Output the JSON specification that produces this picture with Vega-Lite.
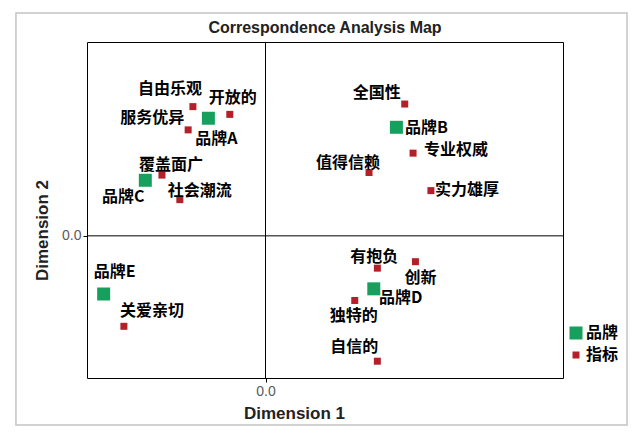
{
  "$schema": "https://vega.github.io/schema/vega-lite/v6.json",
  "autosize": {"type": "none"},
  "padding": {"left": 87, "top": 42, "right": 77, "bottom": 56},
  "width": 476,
  "height": 336,
  "background": "white",
  "title": {
    "text": "Correspondence Analysis Map",
    "font": "Liberation Sans",
    "fontSize": 16,
    "fontWeight": "bold",
    "color": "#222222",
    "anchor": "middle",
    "baseline": "alphabetic",
    "offset": 9,
    "dy": 46
  },
  "datasets": {
    "points": [
      {"name": "品牌A", "type": "品牌", "d1": -0.48, "d2": 0.91},
      {"name": "品牌B", "type": "品牌", "d1": 1.10, "d2": 0.84},
      {"name": "品牌C", "type": "品牌", "d1": -1.01, "d2": 0.43},
      {"name": "品牌D", "type": "品牌", "d1": 0.91, "d2": -0.41},
      {"name": "品牌E", "type": "品牌", "d1": -1.36, "d2": -0.45},
      {"name": "自由乐观", "type": "指标", "d1": -0.61, "d2": 1.00},
      {"name": "开放的", "type": "指标", "d1": -0.30, "d2": 0.94},
      {"name": "服务优异", "type": "指标", "d1": -0.65, "d2": 0.82},
      {"name": "覆盖面广", "type": "指标", "d1": -0.87, "d2": 0.47},
      {"name": "社会潮流", "type": "指标", "d1": -0.72, "d2": 0.28},
      {"name": "全国性", "type": "指标", "d1": 1.17, "d2": 1.02},
      {"name": "专业权威", "type": "指标", "d1": 1.24, "d2": 0.64},
      {"name": "值得信赖", "type": "指标", "d1": 0.87, "d2": 0.49},
      {"name": "实力雄厚", "type": "指标", "d1": 1.39, "d2": 0.35},
      {"name": "关爱亲切", "type": "指标", "d1": -1.19, "d2": -0.70},
      {"name": "有抱负", "type": "指标", "d1": 0.94, "d2": -0.25},
      {"name": "创新", "type": "指标", "d1": 1.26, "d2": -0.20},
      {"name": "独特的", "type": "指标", "d1": 0.75, "d2": -0.50},
      {"name": "自信的", "type": "指标", "d1": 0.94, "d2": -0.97}
    ],
    "one": [{}]
  },
  "layer": [
    {
      "data": {"name": "one"},
      "mark": {"type": "rect", "fill": null, "stroke": "#c4c4c4", "strokeWidth": 1.5, "clip": false},
      "encoding": {
        "x": {"datum": -2.097, "type": "quantitative"},
        "x2": {"datum": 3.038},
        "y": {"datum": 1.724, "type": "quantitative"},
        "y2": {"datum": -1.464}
      }
    },
    {
      "data": {"name": "one"},
      "mark": {"type": "rule", "color": "#000000", "strokeWidth": 1},
      "encoding": {"x": {"datum": 0, "type": "quantitative"}}
    },
    {
      "data": {"name": "one"},
      "mark": {"type": "rule", "color": "#000000", "strokeWidth": 1},
      "encoding": {"y": {"datum": 0, "type": "quantitative"}}
    },
    {
      "data": {"name": "points"},
      "encoding": {
        "x": {
          "field": "d1", "type": "quantitative",
          "scale": {"domain": [-1.5, 2.5], "nice": false, "zero": false},
          "axis": {
            "values": [0], "format": ".1f", "title": "Dimension 1",
            "titleX": 207, "titleY": 40, "titleAlign": "center", "titleBaseline": "alphabetic", "titleAnchor": null
          }
        },
        "y": {
          "field": "d2", "type": "quantitative",
          "scale": {"domain": [-1.1, 1.5], "nice": false, "zero": false},
          "axis": {
            "values": [0], "format": ".1f", "title": "Dimension 2",
            "titleX": -40, "titleY": 188, "titleAngle": 270, "titleAlign": "center", "titleBaseline": "alphabetic", "titleAnchor": null
          }
        }
      },
      "layer": [
        {
          "mark": {"type": "point", "shape": "square", "filled": true, "opacity": 1, "strokeWidth": 0},
          "encoding": {
            "color": {
              "field": "type", "type": "nominal",
              "scale": {"domain": ["品牌", "指标"], "range": ["#17a05d", "#b3202a"]},
              "legend": {
                "orient": "none", "legendX": 481, "legendY": 283, "title": null, "padding": 0,
                "labelFont": "Noto Sans CJK SC", "labelFontSize": 16, "labelFontWeight": "bold", "labelColor": "#000000",
                "labelOffset": 2, "rowPadding": 6, "symbolStrokeWidth": 0, "symbolType": "square"
              }
            },
            "size": {
              "field": "type", "type": "nominal",
              "scale": {"domain": ["品牌", "指标"], "range": [169, 49]},
              "legend": {
                "orient": "none", "legendX": 481, "legendY": 283, "title": null, "padding": 0,
                "labelFont": "Noto Sans CJK SC", "labelFontSize": 16, "labelFontWeight": "bold", "labelColor": "#000000",
                "labelOffset": 2, "rowPadding": 6, "symbolStrokeWidth": 0, "symbolType": "square"
              }
            }
          }
        },
        {"transform": [{"filter": "datum.name === '自由乐观'"}], "mark": {"type": "text", "dx": -23, "dy": -18}, "encoding": {"text": {"field": "name"}}},
        {"transform": [{"filter": "datum.name === '开放的'"}], "mark": {"type": "text", "dx": 3, "dy": -16}, "encoding": {"text": {"field": "name"}}},
        {"transform": [{"filter": "datum.name === '服务优异'"}], "mark": {"type": "text", "dx": -36, "dy": -12}, "encoding": {"text": {"field": "name"}}},
        {"transform": [{"filter": "datum.name === '品牌A'"}], "mark": {"type": "text", "dx": 8, "dy": 21}, "encoding": {"text": {"field": "name"}}},
        {"transform": [{"filter": "datum.name === '覆盖面广'"}], "mark": {"type": "text", "dx": 9, "dy": -10}, "encoding": {"text": {"field": "name"}}},
        {"transform": [{"filter": "datum.name === '社会潮流'"}], "mark": {"type": "text", "dx": 20, "dy": -9}, "encoding": {"text": {"field": "name"}}},
        {"transform": [{"filter": "datum.name === '品牌C'"}], "mark": {"type": "text", "dx": -22, "dy": 17}, "encoding": {"text": {"field": "name"}}},
        {"transform": [{"filter": "datum.name === '全国性'"}], "mark": {"type": "text", "dx": -28, "dy": -11}, "encoding": {"text": {"field": "name"}}},
        {"transform": [{"filter": "datum.name === '品牌B'"}], "mark": {"type": "text", "dx": 30, "dy": 1}, "encoding": {"text": {"field": "name"}}},
        {"transform": [{"filter": "datum.name === '专业权威'"}], "mark": {"type": "text", "dx": 43, "dy": -3}, "encoding": {"text": {"field": "name"}}},
        {"transform": [{"filter": "datum.name === '值得信赖'"}], "mark": {"type": "text", "dx": -21, "dy": -10}, "encoding": {"text": {"field": "name"}}},
        {"transform": [{"filter": "datum.name === '实力雄厚'"}], "mark": {"type": "text", "dx": 36, "dy": -1}, "encoding": {"text": {"field": "name"}}},
        {"transform": [{"filter": "datum.name === '品牌E'"}], "mark": {"type": "text", "dx": 11, "dy": -22}, "encoding": {"text": {"field": "name"}}},
        {"transform": [{"filter": "datum.name === '关爱亲切'"}], "mark": {"type": "text", "dx": 28, "dy": -15}, "encoding": {"text": {"field": "name"}}},
        {"transform": [{"filter": "datum.name === '有抱负'"}], "mark": {"type": "text", "dx": -3, "dy": -11}, "encoding": {"text": {"field": "name"}}},
        {"transform": [{"filter": "datum.name === '创新'"}], "mark": {"type": "text", "dx": 5, "dy": 16}, "encoding": {"text": {"field": "name"}}},
        {"transform": [{"filter": "datum.name === '品牌D'"}], "mark": {"type": "text", "dx": 27, "dy": 9}, "encoding": {"text": {"field": "name"}}},
        {"transform": [{"filter": "datum.name === '独特的'"}], "mark": {"type": "text", "dx": -1, "dy": 16}, "encoding": {"text": {"field": "name"}}},
        {"transform": [{"filter": "datum.name === '自信的'"}], "mark": {"type": "text", "dx": -23, "dy": -14}, "encoding": {"text": {"field": "name"}}}
      ]
    }
  ],
  "config": {
    "view": {"stroke": "#000000", "strokeWidth": 1},
    "axis": {
      "grid": false,
      "domain": false,
      "ticks": true,
      "tickSize": 4,
      "tickColor": "#000000",
      "labelFont": "Liberation Sans",
      "labelFontSize": 14,
      "labelColor": "#5a5a5a",
      "labelPadding": 2,
      "titleFont": "Liberation Sans",
      "titleFontSize": 17,
      "titleFontWeight": "bold",
      "titleColor": "#222222"
    },
    "text": {
      "font": "Noto Sans CJK SC",
      "fontSize": 16,
      "fontWeight": "bold",
      "color": "#000000",
      "align": "center",
      "baseline": "middle"
    }
  }
}
